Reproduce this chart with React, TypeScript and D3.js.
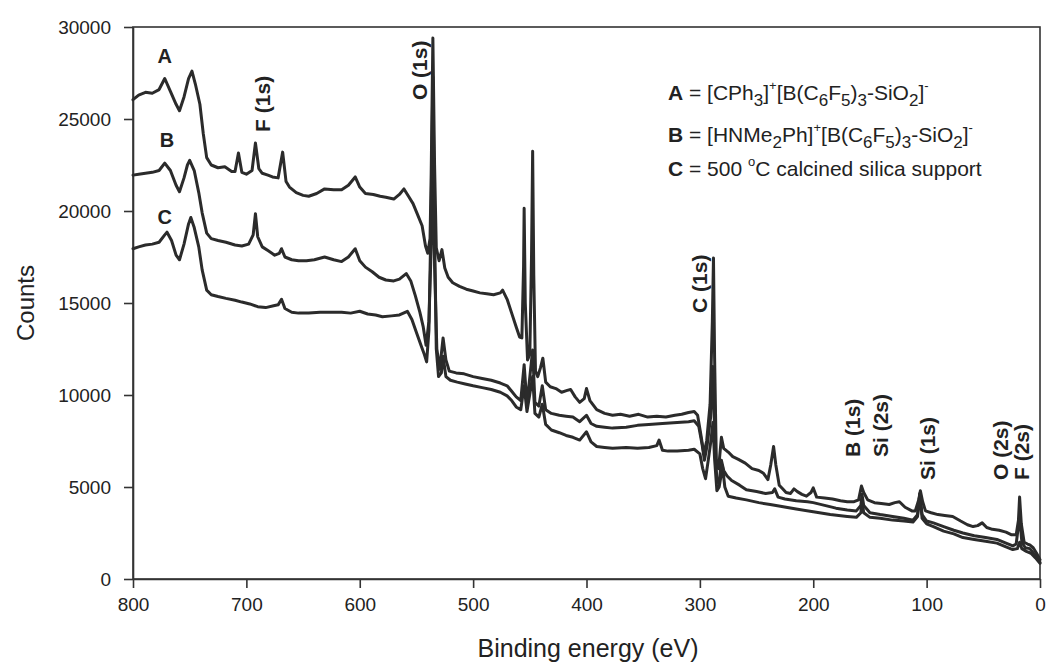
import React, { useEffect, useRef } from "react";
import * as d3 from "d3";

// XPS survey spectra, [binding energy (eV), counts]
const seriesA: [number, number][] = [
  [800, 26050], [795, 26300], [789, 26450], [783, 26400], [777, 26600], [772, 27200], [767, 26500],
  [762, 25800], [759, 25450], [755, 26200], [751, 27200], [748, 27600], [745, 26900], [741, 25800],
  [738, 24200], [735, 22900], [731, 22500], [725, 22350], [719, 22400], [713, 22150], [710, 22150],
  [707, 23150], [704, 22100], [700, 22000], [695, 22200], [692, 23700], [689, 22300], [686, 22050],
  [681, 21950], [677, 21850], [672, 21800], [668, 23200], [665, 21600], [662, 21300], [656, 21000],
  [650, 20850], [645, 20800], [638, 20950], [631, 21200], [623, 21150], [616, 21150], [610, 21400],
  [604, 21850], [600, 21300], [595, 20950], [588, 20900], [582, 20800], [577, 20750], [570, 20650],
  [565, 20900], [561, 21200], [557, 20800], [553, 20400], [549, 19800], [545, 19200], [542, 18100],
  [540, 17700], [538, 18500], [537, 22000], [535.5, 29400], [534, 22500], [532.5, 18000], [530, 17300],
  [527.5, 17900], [525, 16900], [522, 16400], [518, 16100], [512, 15900], [506, 15750], [500, 15650],
  [494, 15550], [488, 15500], [482, 15450], [476, 15550], [474, 15700], [470, 15200], [466, 14450],
  [462, 13700], [459, 13150], [457, 13100], [455.5, 17000], [455, 20150], [454, 15000], [452, 11900],
  [450, 12200], [448.5, 17500], [447.5, 23250], [446.5, 16500], [445, 11300], [443, 11000], [440.5, 11500],
  [438.5, 12000], [436, 10700], [432, 10450], [427, 10350], [422, 10150], [417, 10250], [414, 10300],
  [410, 9900], [406, 9600], [402, 9800], [400, 10350], [397, 9700], [391, 9200], [384, 9000], [377, 8900],
  [370, 8950], [362, 8850], [354, 8950], [346, 8800], [338, 8850], [330, 8800], [322, 8900], [316, 8950],
  [310, 9050], [305, 9100], [302, 8900], [299, 7800], [296.5, 6800], [294, 7500], [291, 9500], [289, 14000],
  [288, 17450], [287, 12000], [285.5, 6500], [283.5, 6000], [281, 7700], [279, 7100], [275, 6900],
  [271, 6650], [266, 6500], [260, 6300], [254, 6000], [248, 5900], [244, 5750], [240, 5400], [237.5, 6200],
  [235, 7200], [233, 6200], [230, 5100], [227, 4900], [224, 4700], [220, 4650], [217, 4900], [214, 4750],
  [210, 4600], [206, 4500], [202, 4700], [200, 4950], [197, 4450], [190, 4400], [183, 4350], [176, 4250],
  [170, 4200], [164, 4200], [160, 4300], [157.5, 5050], [155.5, 4700], [152, 4300], [146, 4150],
  [140, 4100], [133, 4050], [128, 4150], [124, 4200], [119, 3900], [113, 3700], [110, 3700], [107, 4300],
  [105.5, 4800], [103.5, 4200], [101, 3700], [96, 3600], [90, 3500], [84, 3450], [77, 3400], [70, 3150],
  [64, 2950], [59, 2850], [55, 2900], [51, 3050], [47, 2800], [42, 2700], [36, 2650], [30, 2550],
  [25, 2400], [21, 2400], [19, 3200], [18, 4450], [16.5, 3000], [14, 2000], [11, 1900], [9, 1850],
  [6, 1700], [3, 1400], [0, 1050],
];

const seriesB: [number, number][] = [
  [800, 21950], [795, 22000], [789, 22050], [783, 22100], [777, 22200], [772, 22600], [767, 22200],
  [762, 21400], [759, 21050], [755, 21800], [752, 22500], [750, 22750], [746, 22200], [742, 21000],
  [739, 19900], [735, 18800], [731, 18500], [725, 18400], [718, 18300], [710, 18150], [704, 18100],
  [698, 18200], [694, 18700], [692, 19850], [690, 18600], [686, 18050], [681, 17850], [675, 17600],
  [671, 17700], [669, 17950], [666, 17500], [660, 17350], [654, 17300], [647, 17300], [640, 17350],
  [631, 17500], [623, 17350], [616, 17250], [610, 17500], [604, 17950], [600, 17300], [595, 16950],
  [589, 16700], [583, 16400], [577, 16250], [570, 16200], [565, 16300], [559, 16600], [555, 16200],
  [551, 15400], [547, 14500], [544, 13700], [541.5, 12700], [539, 14000], [537, 18000], [535.5, 23200],
  [534, 17000], [532, 12500], [529.5, 11400], [526.5, 13100], [524, 11900], [521, 11300], [515, 11200],
  [508, 11150], [500, 11000], [492, 10900], [484, 10800], [476, 10650], [470, 10500], [466, 10200],
  [462, 9900], [458, 9700], [455, 11650], [452.5, 9500], [447.5, 12450], [445.5, 9600], [442, 9400],
  [439, 10500], [436, 9200], [431, 9000], [424, 8900], [418, 8850], [412, 8800], [406, 8550], [400, 8900],
  [396, 8450], [391, 8300], [384, 8250], [377, 8200], [365, 8250], [355, 8350], [345, 8400], [333, 8450],
  [320, 8500], [310, 8550], [305, 8600], [301, 8300], [298, 7300], [296, 6450], [293.5, 7300],
  [290.5, 8800], [288.5, 11550], [287, 8000], [285, 5300], [283, 5200], [281, 6450], [279, 5900],
  [276, 5600], [272, 5350], [265, 5100], [259, 4850], [250, 4750], [242, 4650], [236, 4700], [234, 4900],
  [231, 4450], [225, 4350], [215, 4250], [205, 4200], [200, 4150], [190, 4000], [180, 3850], [170, 3750],
  [162, 3700], [158, 4000], [157, 4600], [155.5, 4000], [150, 3600], [141, 3500], [130, 3400],
  [120, 3300], [112, 3200], [108, 3500], [106, 4600], [104, 3500], [100, 3150], [94, 3050], [85, 2850],
  [76, 2650], [68, 2500], [58, 2350], [48, 2250], [38, 2150], [30, 1950], [24, 1800], [21, 1900],
  [18, 3400], [16, 2000], [13, 1700], [9, 1650], [5, 1350], [0, 900],
];

const seriesC: [number, number][] = [
  [800, 17950], [795, 18050], [789, 18150], [783, 18200], [777, 18300], [772, 18700], [770, 18850],
  [766, 18400], [762, 17600], [759, 17350], [755, 18200], [751, 19300], [749, 19650], [746, 19100],
  [742, 18050], [739, 16800], [735, 15700], [731, 15450], [725, 15350], [718, 15250], [710, 15150],
  [704, 15050], [697, 14950], [690, 14800], [683, 14750], [676, 14850], [672, 14900], [669, 15200],
  [666, 14700], [660, 14500], [654, 14450], [645, 14450], [635, 14500], [625, 14500], [616, 14500],
  [608, 14450], [600, 14550], [593, 14400], [586, 14350], [580, 14250], [572, 14300], [565, 14350],
  [558, 14550], [554, 14100], [550, 13400], [546, 12700], [543, 12200], [541, 11800], [539, 13500],
  [537, 20000], [535.5, 27300], [534, 19000], [532.5, 12500], [530.5, 11000], [528, 11200],
  [526.5, 12100], [524, 11000], [520, 10800], [514, 10700], [507, 10600], [500, 10500], [492, 10400],
  [484, 10300], [476, 10150], [470, 9950], [466, 9700], [462, 9350], [458, 9200], [455, 10500],
  [452.5, 9100], [447.5, 11000], [445.5, 9000], [442, 8800], [439, 9500], [436, 8400], [431, 8100],
  [424, 7950], [418, 7800], [412, 7700], [406, 7550], [400, 8000], [396, 7450], [391, 7200], [384, 7150],
  [377, 7100], [365, 7150], [355, 7100], [345, 7150], [338, 7250], [336, 7550], [333, 7000], [328, 6950],
  [320, 6950], [310, 7000], [305, 7050], [300, 6800], [297.5, 6000], [295, 5450], [292.5, 6500],
  [290.5, 7400], [288.5, 8500], [287, 6500], [285, 4800], [283, 5000], [280, 6100], [278, 5000],
  [275, 4500], [268, 4400], [259, 4300], [248, 4150], [238, 4050], [229, 3950], [215, 3800], [200, 3650],
  [185, 3500], [170, 3400], [162, 3350], [158, 3600], [157, 4300], [155.5, 3600], [150, 3350],
  [141, 3300], [130, 3200], [120, 3150], [112, 3100], [108, 3400], [106, 4650], [104, 3300], [100, 3000],
  [94, 2850], [85, 2600], [76, 2450], [68, 2250], [58, 2150], [48, 2050], [38, 1950], [30, 1750],
  [24, 1600], [20, 1650], [18, 2000], [16, 1650], [12, 1500], [8, 1400], [4, 1150], [0, 850],
];

const xTicks = [800, 700, 600, 500, 400, 300, 200, 100, 0];
const yTicks = [0, 5000, 10000, 15000, 20000, 25000, 30000];

// curve letters (horizontal) and peak assignments (vertical), anchored in data units
const curveLabels = [
  { text: "A", ev: 772, counts: 28050 },
  { text: "B", ev: 770, counts: 23480 },
  { text: "C", ev: 772, counts: 19300 },
];
const peakLabels = [
  { text: "F (1s)", ev: 686, counts: 24300 },
  { text: "O (1s)", ev: 547, counts: 26030 },
  { text: "C (1s)", ev: 300, counts: 14460 },
  { text: "B (1s)", ev: 165, counts: 6630 },
  { text: "Si (2s)", ev: 141, counts: 6630 },
  { text: "Si (1s)", ev: 99, counts: 5380 },
  { text: "O (2s)", ev: 35, counts: 5380 },
  { text: "F (2s)", ev: 16, counts: 5380 },
];

const FONT = "'Liberation Sans', Arial, Helvetica, sans-serif";

export default function App() {
  const ref = useRef<SVGSVGElement>(null);

  useEffect(() => {
    const width = 1047;
    const height = 664;
    const margin = { top: 27, right: 7, bottom: 85, left: 133 };

    const svg = d3.select(ref.current);
    svg.selectAll("*").remove();

    const x = d3.scaleLinear().domain([800, 0]).range([margin.left, width - margin.right]);
    const y = d3.scaleLinear().domain([0, 30000]).range([height - margin.bottom, margin.top]);

    // frame
    svg.append("rect")
      .attr("x", margin.left).attr("y", margin.top)
      .attr("width", width - margin.left - margin.right)
      .attr("height", height - margin.top - margin.bottom)
      .attr("fill", "none").attr("stroke", "#333").attr("stroke-width", 1.6);

    const yAxis = (g: any) => g
      .attr("transform", `translate(${margin.left},0)`)
      .call(d3.axisLeft(y).tickValues(yTicks).tickSize(9).tickSizeOuter(0).tickPadding(13).tickFormat(d3.format("d")))
      .call((g: any) => g.select(".domain").attr("stroke", "#333").attr("stroke-width", 1.6))
      .call((g: any) => g.selectAll(".tick line").attr("stroke", "#333").attr("stroke-width", 1.6))
      .call((g: any) => g.selectAll("text").attr("font-size", 19).attr("font-family", FONT).attr("fill", "#222"));

    const xAxis = (g: any) => g
      .attr("transform", `translate(0,${height - margin.bottom})`)
      .call(d3.axisBottom(x).tickValues(xTicks).tickSize(9).tickSizeOuter(0).tickPadding(10).tickFormat(d3.format("d")))
      .call((g: any) => g.select(".domain").attr("stroke", "#333").attr("stroke-width", 1.6))
      .call((g: any) => g.selectAll(".tick line").attr("stroke", "#333").attr("stroke-width", 1.6))
      .call((g: any) => g.selectAll("text").attr("font-size", 19).attr("font-family", FONT).attr("fill", "#222"));

    svg.append("g").call(yAxis);
    svg.append("g").call(xAxis);

    // axis titles
    svg.append("text")
      .attr("transform", `translate(34,${(margin.top + height - margin.bottom) / 2}) rotate(-90)`)
      .attr("text-anchor", "middle")
      .attr("font-family", FONT).attr("font-size", 24).attr("fill", "#222")
      .text("Counts");

    svg.append("text")
      .attr("x", 588).attr("y", 657)
      .attr("text-anchor", "middle")
      .attr("font-family", FONT).attr("font-size", 25).attr("fill", "#222")
      .text("Binding energy (eV)");

    const line = d3.line<[number, number]>()
      .x((d) => x(d[0]))
      .y((d) => y(d[1]));

    [seriesC, seriesB, seriesA].forEach((s) => {
      svg.append("path")
        .datum(s)
        .attr("fill", "none")
        .attr("stroke", "#2b2b2b")
        .attr("stroke-width", 3)
        .attr("stroke-linejoin", "round")
        .attr("stroke-linecap", "round")
        .attr("d", line);
    });

    // curve letters
    svg.selectAll(".curve-label")
      .data(curveLabels)
      .enter()
      .append("text")
      .attr("x", (d) => x(d.ev))
      .attr("y", (d) => y(d.counts))
      .attr("text-anchor", "middle")
      .attr("font-family", FONT).attr("font-size", 20).attr("font-weight", "bold").attr("fill", "#222")
      .text((d) => d.text);

    // peak assignments, rotated
    svg.selectAll(".peak-label")
      .data(peakLabels)
      .enter()
      .append("text")
      .attr("transform", (d) => `translate(${x(d.ev)},${y(d.counts)}) rotate(-90)`)
      .attr("dy", "0.36em")
      .attr("text-anchor", "start")
      .attr("font-family", FONT).attr("font-size", 21).attr("font-weight", "bold").attr("fill", "#222")
      .text((d) => d.text);

    // legend with sub/superscripts
    const legend = svg.append("g").attr("font-family", FONT).attr("font-size", 21).attr("fill", "#222");
    const shift = (k: string) => (k === "sub" ? 6 : k === "sup" ? -10 : 0);
    const row = (yy: number, parts: [string, string?][]) => {
      const t = legend.append("text").attr("x", 668).attr("y", yy);
      let prev = "";
      parts.forEach(([s, kind = ""]) => {
        const sp = t.append("tspan").text(s).attr("dy", shift(kind) - shift(prev));
        if (kind === "b") sp.attr("font-weight", "bold");
        if (kind === "sub") sp.attr("font-size", 17);
        if (kind === "sup") sp.attr("font-size", 13);
        prev = kind;
      });
    };
    row(100, [["A", "b"], [" = [CPh"], ["3", "sub"], ["]"], ["+", "sup"], ["[B(C"], ["6", "sub"], ["F"], ["5", "sub"], [")"], ["3", "sub"], ["-SiO"], ["2", "sub"], ["]"], ["-", "sup"]]);
    row(142, [["B", "b"], [" = [HNMe"], ["2", "sub"], ["Ph]"], ["+", "sup"], ["[B(C"], ["6", "sub"], ["F"], ["5", "sub"], [")"], ["3", "sub"], ["-SiO"], ["2", "sub"], ["]"], ["-", "sup"]]);
    row(176, [["C", "b"], [" = 500 "], ["o", "sup"], ["C calcined silica support"]]);
  }, []);

  return (
    <svg
      ref={ref}
      width={1047}
      height={664}
      style={{ position: "absolute", left: 0, top: 0, background: "#fff" }}
    />
  );
}
